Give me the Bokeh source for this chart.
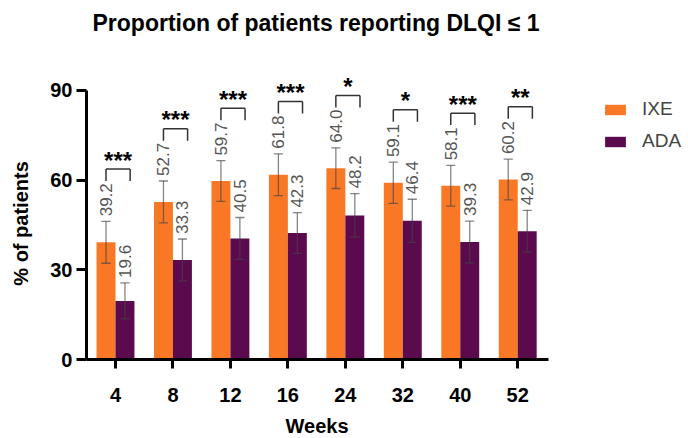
import numpy as np
from bokeh.plotting import figure
from bokeh.models import (Range1d, FixedTicker, Label, Legend, LegendItem, LinearAxis)
from bokeh.embed import file_html
from bokeh.resources import INLINE
from bokeh.core.properties import value

weeks = ["4", "8", "12", "16", "24", "32", "40", "52"]
ixe = [39.2, 52.7, 59.7, 61.8, 64.0, 59.1, 58.1, 60.2]
ada = [19.6, 33.3, 40.5, 42.3, 48.2, 46.4, 39.3, 42.9]
ixe_err = [7.0, 7.0, 6.8, 7.0, 6.8, 6.9, 6.8, 6.8]
ada_err = [6.0, 7.0, 7.0, 6.8, 7.3, 7.2, 7.0, 7.0]
signif = ["***", "***", "***", "***", "*", "*", "***", "**"]

ORANGE = "#F97826"
PURPLE = "#5B0A4E"
FONT = "Liberation Sans"

x = np.arange(len(weeks))
off = 0.165
bw = 0.33
XMIN = -0.505   # left end of the x axis
XMAX = 7.535    # right end of the x axis

p = figure(width=688, height=438, output_backend="svg", toolbar_location=None,
           x_range=Range1d(-2.001, 9.972), y_range=Range1d(-26.42, 120.07),
           min_border_left=0, min_border_right=0, min_border_top=0, min_border_bottom=0,
           x_axis_location=None, y_axis_location=None)
p.title.visible = False
p.outline_line_color = None
p.background_fill_color = "white"

xaxis = LinearAxis(fixed_location=0)
yaxis = LinearAxis(fixed_location=XMIN)
p.add_layout(xaxis, "below")
p.add_layout(yaxis, "left")
p.grid.visible = False

xi = x - off
xa = x + off
ri = p.vbar(x=xi, top=ixe, width=bw, fill_color=ORANGE, line_color=None)
ra = p.vbar(x=xa, top=ada, width=bw, fill_color=PURPLE, line_color=None)

# error bars and value labels
for xs, vals, errs in ((xi, ixe, ixe_err), (xa, ada, ada_err)):
    lo = [v - e for v, e in zip(vals, errs)]
    hi = [v + e for v, e in zip(vals, errs)]
    p.segment(x0=xs, y0=lo, x1=xs, y1=hi, line_color="#444444", line_alpha=0.65, line_width=1.3)
    p.segment(x0=xs - 0.08, y0=hi, x1=xs + 0.08, y1=hi, line_color="#444444", line_alpha=0.65, line_width=1.3)
    p.segment(x0=xs - 0.08, y0=lo, x1=xs + 0.08, y1=lo, line_color="#444444", line_alpha=0.65, line_width=1.3)
    p.text(x=xs, y=[h + 1.7 for h in hi], text=[f"{v:.1f}" for v in vals], angle=np.pi / 2,
           text_align="left", text_baseline="middle", text_font=value(FONT),
           text_font_size="17px", text_color="#555555")

# significance brackets and stars
btop = [v + e + 17.5 for v, e in zip(ixe, ixe_err)]
bl = x - off
br = x + 0.255
p.segment(x0=bl, y0=btop, x1=br, y1=btop, line_color="#333333", line_width=1.5)
p.segment(x0=bl, y0=[b - 4 for b in btop], x1=bl, y1=btop, line_color="#333333", line_width=1.5)
p.segment(x0=br, y0=[b - 4 for b in btop], x1=br, y1=btop, line_color="#333333", line_width=1.5)
p.text(x=(bl + br) / 2, y=[b + 3.0 for b in btop], text=signif, text_align="center",
       text_baseline="middle", text_font=value(FONT), text_font_size="24px",
       text_font_style="bold", text_color="black")

# axes
for ax in (xaxis, yaxis):
    ax.axis_line_width = 3
    ax.axis_line_color = "black"
    ax.major_tick_line_width = 3
    ax.major_tick_line_color = "black"
    ax.major_tick_in = 0
    ax.minor_tick_line_color = None
    ax.major_label_text_font = FONT
    ax.major_label_text_font_style = "bold"
    ax.major_label_text_font_size = "20px"
    ax.major_label_text_color = "black"

yaxis.ticker = FixedTicker(ticks=[0, 30, 60, 90])
yaxis.bounds = (0, 90)
yaxis.major_tick_out = 10
yaxis.major_label_standoff = 4

xaxis.ticker = FixedTicker(ticks=list(x))
xaxis.bounds = (XMIN, XMAX)
xaxis.major_label_overrides = {int(i): w for i, w in zip(x, weeks)}
xaxis.major_tick_out = 9
xaxis.major_label_standoff = 19

# axis titles and chart title
p.add_layout(Label(x=3.507, y=-22.4, text="Weeks", text_align="center",
                   text_baseline="middle", text_font=FONT, text_font_style="bold",
                   text_font_size="20px", text_color="black"))
p.add_layout(Label(x=-1.645, y=45.5, text="% of patients", angle=np.pi / 2,
                   text_align="center", text_baseline="middle", text_font=FONT,
                   text_font_style="bold", text_font_size="20px", text_color="black"))
p.add_layout(Label(x=3.49, y=112.7, text="Proportion of patients reporting DLQI ≤ 1",
                   text_align="center", text_baseline="middle", text_font=FONT,
                   text_font_style="bold", text_font_size="23px", text_color="black"))

legend = Legend(items=[LegendItem(label="IXE", renderers=[ri]),
                       LegendItem(label="ADA", renderers=[ra])],
                location=(602, 286), padding=0, margin=0, spacing=10,
                glyph_width=26, glyph_height=13, label_standoff=14,
                label_text_font=FONT, label_text_font_size="19px",
                border_line_color=None, background_fill_alpha=0)
p.add_layout(legend, "center")

open("out.html", "w").write(file_html(p, INLINE))
